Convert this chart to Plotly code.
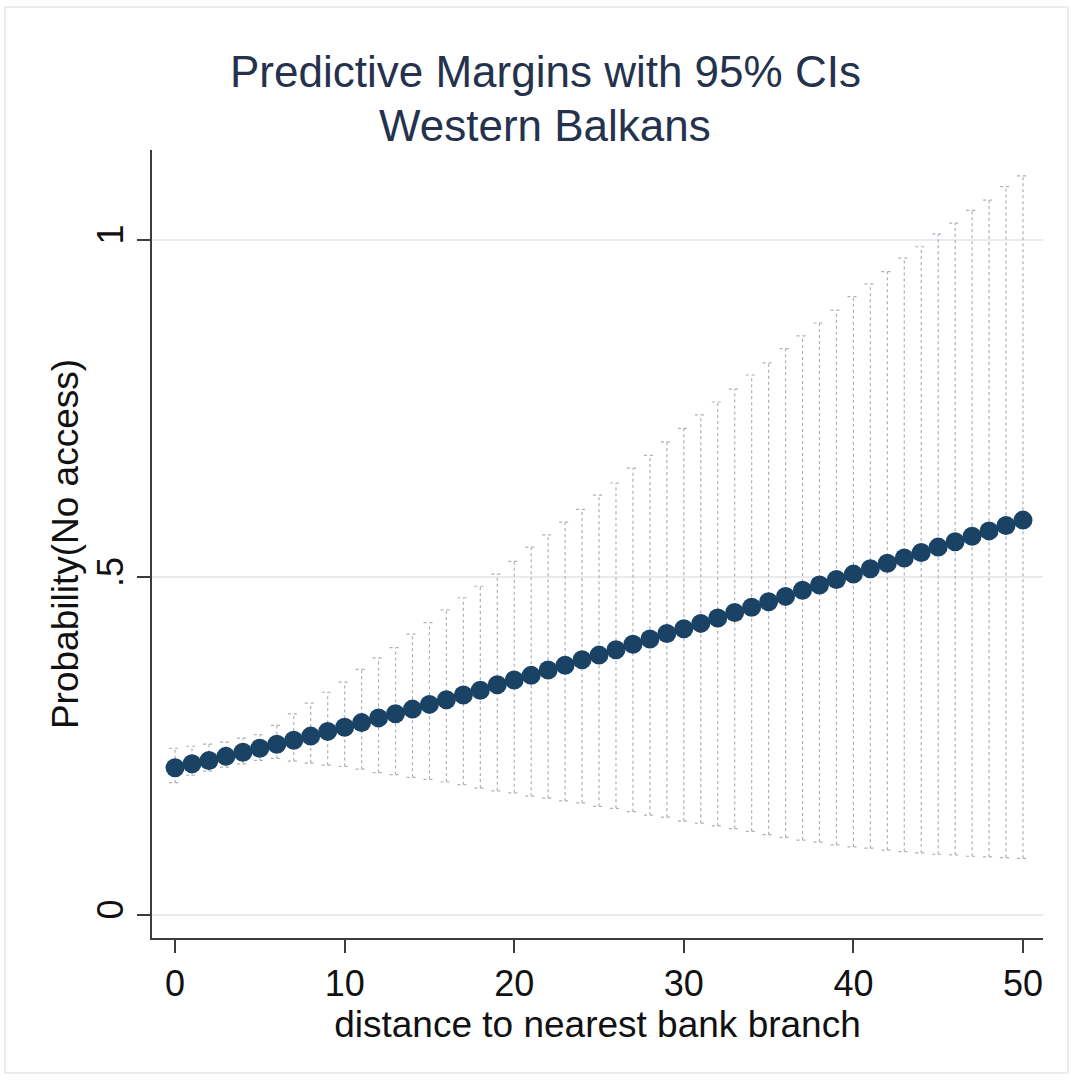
import plotly.graph_objects as go

# Predictive margins of P(no access) by distance to the nearest bank branch
distance = list(range(51))

margin = [
    0.218, 0.224, 0.229, 0.235, 0.241, 0.247, 0.253, 0.259, 0.265, 0.272,
    0.278, 0.285, 0.292, 0.298, 0.305, 0.312, 0.319, 0.326, 0.333, 0.341,
    0.348, 0.355, 0.363, 0.370, 0.378, 0.385, 0.393, 0.401, 0.409, 0.417,
    0.424, 0.432, 0.440, 0.448, 0.456, 0.464, 0.472, 0.481, 0.489, 0.497,
    0.505, 0.513, 0.521, 0.529, 0.537, 0.545, 0.553, 0.561, 0.569, 0.577,
    0.585,
]

ci_upper = [
    0.247, 0.250, 0.253, 0.256, 0.262, 0.267, 0.281, 0.298, 0.314, 0.330,
    0.345, 0.364, 0.381, 0.396, 0.416, 0.433, 0.452, 0.470, 0.487, 0.505,
    0.524, 0.545, 0.563, 0.582, 0.601, 0.622, 0.640, 0.662, 0.681, 0.701,
    0.721, 0.741, 0.760, 0.779, 0.800, 0.818, 0.839, 0.858, 0.877, 0.896,
    0.916, 0.935, 0.953, 0.973, 0.990, 1.009, 1.025, 1.044, 1.059, 1.079,
    1.095,
]

ci_lower = [
    0.196, 0.207, 0.213, 0.219, 0.224, 0.229, 0.232, 0.228, 0.225, 0.222,
    0.220, 0.216, 0.211, 0.208, 0.204, 0.201, 0.197, 0.193, 0.188, 0.184,
    0.181, 0.176, 0.173, 0.169, 0.166, 0.161, 0.158, 0.153, 0.148, 0.145,
    0.139, 0.136, 0.132, 0.128, 0.124, 0.119, 0.115, 0.111, 0.108, 0.104,
    0.101, 0.099, 0.096, 0.094, 0.092, 0.090, 0.089, 0.087, 0.086, 0.085,
    0.084,
]

y_ticks = [0, 0.5, 1]
y_tick_text = ["0", ".5", "1"]
x_ticks = [0, 10, 20, 30, 40, 50]

FONT = "Liberation Sans, Arial, sans-serif"
SPIKE = "#a9b1bb"
NAVY = "#1a4265"
AXIS = "#3c3c3c"

# Spikes and caps of the confidence intervals, drawn as dotted segments
cap = 0.35
spike_x, spike_y, cap_x, cap_y = [], [], [], []
for xv, lo, hi in zip(distance, ci_lower, ci_upper):
    spike_x += [xv, xv, None]
    spike_y += [lo, hi, None]
    cap_x += [xv - cap, xv + cap, None, xv - cap, xv + cap, None]
    cap_y += [hi, hi, None, lo, lo, None]

fig = go.Figure()
fig.add_trace(go.Scatter(
    x=spike_x, y=spike_y, mode="lines",
    line=dict(color=SPIKE, width=1.2, dash="dot"),
    hoverinfo="skip", showlegend=False,
))
fig.add_trace(go.Scatter(
    x=cap_x, y=cap_y, mode="lines",
    line=dict(color=SPIKE, width=1.2, dash="dot"),
    hoverinfo="skip", showlegend=False,
))
fig.add_trace(go.Scatter(
    x=distance, y=margin, mode="markers",
    marker=dict(color=NAVY, size=19, line=dict(color=NAVY, width=0)),
    showlegend=False,
))

fig.update_layout(
    width=1073, height=1080,
    paper_bgcolor="white", plot_bgcolor="white",
    margin=dict(l=152, r=30, t=150, b=142),
    font=dict(family=FONT, color="#111111"),
    showlegend=False,
)

fig.update_xaxes(
    range=[-1.36, 51.18],
    tickmode="array", tickvals=x_ticks,
    ticks="outside", ticklen=13, tickwidth=2, tickcolor=AXIS,
    showline=True, linewidth=2, linecolor=AXIS,
    showgrid=False, zeroline=False,
    tickfont=dict(size=36, family=FONT, color="#111111"),
    title=dict(text="distance to nearest bank branch",
               font=dict(size=37, family=FONT, color="#111111"), standoff=4),
)
fig.update_yaxes(
    range=[-0.0341, 1.1333],
    tickmode="array", tickvals=y_ticks, ticktext=y_tick_text, tickangle=-90,
    ticks="outside", ticklen=13, tickwidth=2, tickcolor=AXIS,
    showline=True, linewidth=2, linecolor=AXIS,
    showgrid=True, gridcolor="#e9ecef", gridwidth=2, zeroline=False,
    tickfont=dict(size=36, family=FONT, color="#111111"),
    title=dict(text="Probability(No access)",
               font=dict(size=37, family=FONT, color="#111111"), standoff=0),
)

# Two-line title
for text, ypx in [("Predictive Margins with 95% CIs", 72), ("Western Balkans", 125)]:
    fig.add_annotation(
        text=text, xref="paper", yref="paper",
        x=(545 - 152) / 891, y=(938 - ypx) / 788,
        xanchor="center", yanchor="middle", showarrow=False,
        font=dict(size=44, family=FONT, color="#25324d"),
    )

# Faint outer border of the graph region
fig.add_shape(
    type="rect", xref="paper", yref="paper",
    x0=(5 - 152) / 891, x1=(1068 - 152) / 891,
    y0=(938 - 1073) / 788, y1=(938 - 7) / 788,
    line=dict(color="#ececec", width=2), layer="below",
)

fig.write_html("out.html")
